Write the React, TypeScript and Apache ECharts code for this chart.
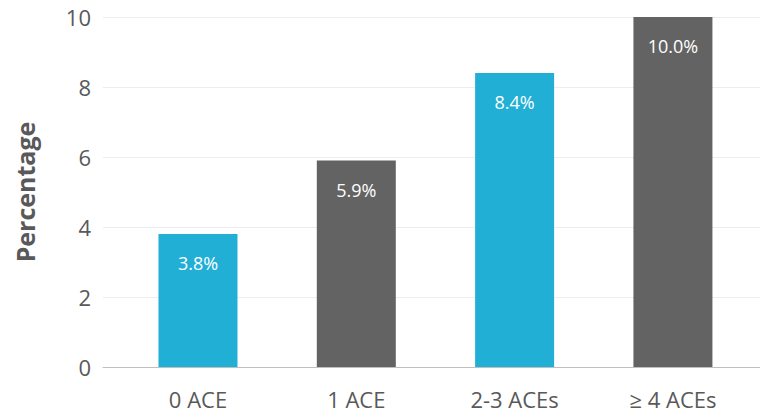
import React, { useEffect, useRef } from "react";
import * as echarts from "echarts";

const categories = ["0 ACE", "1 ACE", "2-3 ACEs", "≥ 4 ACEs"];
const values = [3.8, 5.9, 8.4, 10.0];
const barColors = ["#21AFD6", "#636363", "#21AFD6", "#636363"];
const yTicks = [0, 2, 4, 6, 8, 10];

export default function App() {
  const ref = useRef<HTMLDivElement>(null);
  useEffect(() => {
    document.body.style.margin = "0";
    if (!ref.current) return;
    const chart = echarts.init(ref.current, null, { renderer: "svg" });
    const font = "'Open Sans', 'Noto Sans', sans-serif";
    chart.setOption({
      animation: false,
      textStyle: { fontFamily: font },
      grid: { left: 103, right: 0, top: 17, bottom: 47, containLabel: false },
      xAxis: {
        type: "value",
        min: -0.6,
        max: 3.55,
        splitLine: { show: false },
        axisLine: { show: true, lineStyle: { color: "#BFBFBF", width: 1 } },
        axisTick: { show: false },
        axisLabel: {
          customValues: [0, 1, 2, 3],
          formatter: (v: number) => categories[Math.round(v)] ?? "",
          color: "#595959",
          fontSize: 22,
          margin: 21,
          fontFamily: font,
        },
      },
      yAxis: {
        type: "value",
        min: 0,
        max: 10,
        interval: 2,
        name: "Percentage",
        nameLocation: "middle",
        nameGap: 66,
        nameTextStyle: { color: "#595959", fontSize: 25, fontWeight: "bold", fontFamily: font },
        axisLine: { show: false },
        axisTick: { show: false },
        axisLabel: {
          color: "#595959",
          fontSize: 22,
          margin: 12,
          fontFamily: font,
          formatter: (v: number) => (yTicks.includes(v) ? String(v) : ""),
        },
        splitLine: { lineStyle: { color: "#EDEDED", width: 1 } },
      },
      series: [
        {
          type: "bar",
          barWidth: 79,
          data: values.map((v, i) => ({
            value: [i, v],
            itemStyle: { color: barColors[i] },
          })),
          label: {
            show: true,
            position: "insideTop",
            distance: 20,
            color: "#FFFFFF",
            fontSize: 18,
            fontFamily: font,
            formatter: (p: any) => p.value[1].toFixed(1) + "%",
          },
        },
      ],
    });
    return () => chart.dispose();
  }, []);
  return <div ref={ref} style={{ width: 760, height: 414 }} />;
}
